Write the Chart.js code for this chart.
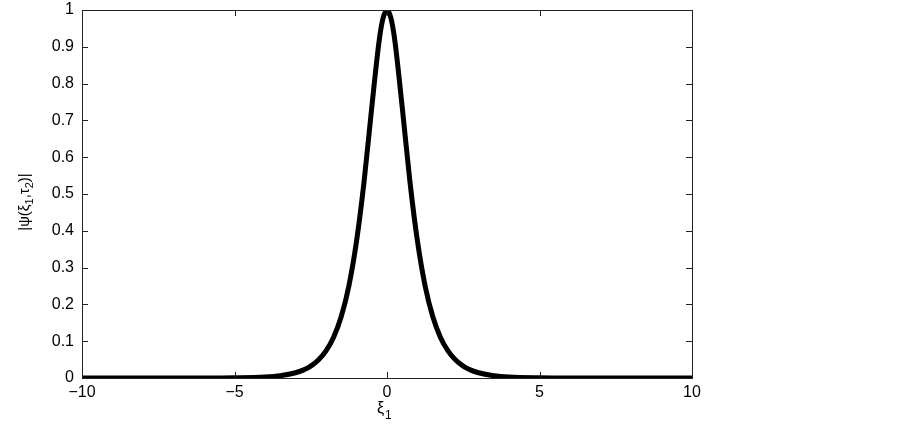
<!DOCTYPE html>
<html>
<head>
<meta charset="utf-8">
<script src="https://cdn.jsdelivr.net/npm/chart.js@4.4.0/dist/chart.umd.min.js"></script>
<style>
  html, body { margin: 0; padding: 0; background: #fff; }
  #wrap { width: 903px; height: 430px; }
</style>
</head>
<body>
<div id="wrap"><canvas id="waveChart"></canvas></div>
<script>
// values
let xi = [-10, -8, -6, -5, -4, -3.5, -3, -2.75, -2.5, -2.25, -2, -1.75, -1.5, -1.25, -1, -0.75, -0.5, -0.25, -0.125, 0,
          0.125, 0.25, 0.5, 0.75, 1, 1.25, 1.5, 1.75, 2, 2.25, 2.5, 2.75, 3, 3.5, 4, 5, 6, 8, 10];
let psi = [0, 0, 0, 0.0005, 0.0027, 0.0062, 0.0142, 0.0214, 0.0323, 0.0488, 0.0737, 0.111, 0.167, 0.25, 0.371, 0.535, 0.735, 0.921, 0.979, 1,
           0.979, 0.921, 0.735, 0.535, 0.371, 0.25, 0.167, 0.111, 0.0737, 0.0488, 0.0323, 0.0214, 0.0142, 0.0062, 0.0027, 0.0005, 0, 0, 0];
let xTicks = [-10, -5, 0, 5, 10];
let yTicks = [0, 0.1, 0.2, 0.3, 0.4, 0.5, 0.6, 0.7, 0.8, 0.9, 1];

let points = xi.map((x, i) => ({ x: x, y: psi[i] }));
let font = "Liberation Sans, Arial, Helvetica, sans-serif";

// box around the axes with ticks pointing inward, like the original
let boxPlugin = {
    id: "box",
    afterDraw(chart) {
        let ctx = chart.ctx;
        let a = chart.chartArea;
        let xs = chart.scales.x, ys = chart.scales.y;
        ctx.save();
        ctx.strokeStyle = "#222";
        ctx.lineWidth = 1;
        ctx.beginPath();
        xTicks.forEach(v => {
            let px = Math.round(xs.getPixelForValue(v)) + 0.5;
            ctx.moveTo(px, a.bottom); ctx.lineTo(px, a.bottom - 6);
            ctx.moveTo(px, a.top); ctx.lineTo(px, a.top + 6);
        });
        yTicks.forEach(v => {
            let py = Math.round(ys.getPixelForValue(v)) + 0.5;
            ctx.moveTo(a.left, py); ctx.lineTo(a.left + 6, py);
            ctx.moveTo(a.right, py); ctx.lineTo(a.right - 6, py);
        });
        ctx.stroke();
        ctx.strokeRect(Math.round(a.left) + 0.5, Math.round(a.top) + 0.5,
                       Math.round(a.right - a.left), Math.round(a.bottom - a.top));

        // axis titles with subscripts
        ctx.fillStyle = "#000";
        ctx.textBaseline = "alphabetic";
        let cx = (a.left + a.right) / 2;
        ctx.font = "16px " + font;
        ctx.textAlign = "left";
        ctx.fillText("\u03BE", cx - 10, 413);
        ctx.font = "12px " + font;
        ctx.fillText("1", cx - 2, 419);

        ctx.translate(29, (a.top + a.bottom) / 2 + 8);
        ctx.rotate(-Math.PI / 2);
        let parts = [["|\u03C8(\u03BE", 0], ["1", 1], [",\u03C4", 0], ["2", 1], [")|", 0]];
        let w = 0;
        parts.forEach(p => {
            ctx.font = (p[1] ? "11px " : "15px ") + font;
            w += ctx.measureText(p[0]).width;
        });
        let x = -w / 2;
        parts.forEach(p => {
            ctx.font = (p[1] ? "11px " : "15px ") + font;
            ctx.fillText(p[0], x, p[1] ? 4 : 0);
            x += ctx.measureText(p[0]).width;
        });
        ctx.restore();
    }
};

let ctx = document.getElementById("waveChart").getContext("2d");
new Chart(ctx, {
    type: "scatter",
    data: {
        datasets: [{
            data: points,
            showLine: true,
            borderColor: "#000",
            borderWidth: 5,
            pointRadius: 0,
            cubicInterpolationMode: "monotone",
            fill: false
        }]
    },
    options: {
        responsive: true,
        maintainAspectRatio: false,
        animation: false,
        layout: { padding: { top: 10, right: 211, left: 0, bottom: 0 } },
        plugins: { legend: { display: false }, tooltip: { enabled: false } },
        scales: {
            x: {
                type: "linear",
                min: -10, max: 10,
                afterFit: s => { s.height = 52; s.paddingLeft = 0; s.paddingRight = 0; },
                afterBuildTicks: s => { s.ticks = xTicks.map(v => ({ value: v })); },
                grid: { display: false, drawTicks: false },
                border: { display: false },
                ticks: {
                    padding: 5,
                    color: "#000",
                    font: { family: font, size: 16 },
                    callback: v => String(v).replace("-", "\u2212")
                }
            },
            y: {
                min: 0, max: 1,
                afterFit: s => { s.width = 82; s.paddingTop = 0; s.paddingBottom = 0; },
                afterBuildTicks: s => { s.ticks = yTicks.map(v => ({ value: v })); },
                grid: { display: false, drawTicks: false },
                border: { display: false },
                ticks: {
                    padding: 8,
                    color: "#000",
                    font: { family: font, size: 16 },
                    callback: v => String(v)
                }
            }
        }
    },
    plugins: [boxPlugin]
});
</script>
</body>
</html>
